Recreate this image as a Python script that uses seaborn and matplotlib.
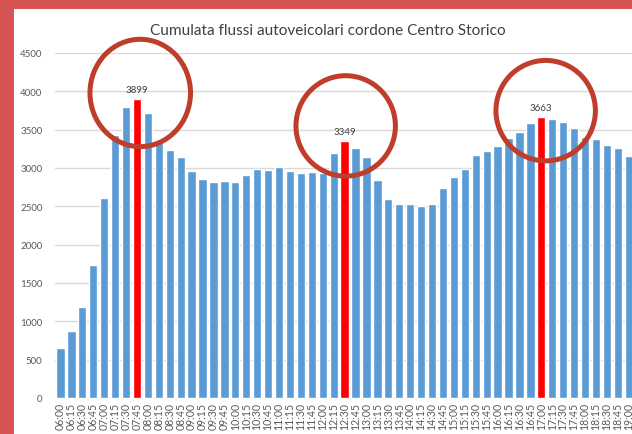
import matplotlib
matplotlib.use("Agg")
import matplotlib.pyplot as plt
from matplotlib.patches import Ellipse
import seaborn as sns
import pandas as pd

# ---- data ----
times = ["06:00", "06:15", "06:30", "06:45", "07:00", "07:15", "07:30", "07:45",
         "08:00", "08:15", "08:30", "08:45", "09:00", "09:15", "09:30", "09:45",
         "10:00", "10:15", "10:30", "10:45", "11:00", "11:15", "11:30", "11:45",
         "12:00", "12:15", "12:30", "12:45", "13:00", "13:15", "13:30", "13:45",
         "14:00", "14:15", "14:30", "14:45", "15:00", "15:15", "15:30", "15:45",
         "16:00", "16:15", "16:30", "16:45", "17:00", "17:15", "17:30", "17:45",
         "18:00", "18:15", "18:30", "18:45", "19:00"]
flows = [650, 880, 1190, 1730, 2610, 3430, 3800, 3899,
         3720, 3350, 3240, 3140, 2955, 2860, 2820, 2835,
         2815, 2910, 2990, 2970, 3010, 2965, 2935, 2950,
         2940, 3200, 3349, 3260, 3140, 2845, 2590, 2535,
         2530, 2510, 2535, 2735, 2885, 2990, 3175, 3220,
         3290, 3390, 3475, 3585, 3663, 3640, 3600, 3520,
         3410, 3380, 3300, 3260, 3160]
peaks = ["07:45", "12:30", "17:00"]
yticks = [0, 500, 1000, 1500, 2000, 2500, 3000, 3500, 4000, 4500]
title = "Cumulata flussi autoveicolari cordone Centro Storico"

df = pd.DataFrame({"time": times, "flow": flows})
df["kind"] = ["peak" if t in peaks else "normal" for t in times]

sns.set_theme(style="white")
plt.rcParams["font.family"] = ["Lato", "DejaVu Sans"]

W, H = 632, 435
fig = plt.figure(figsize=(W / 100, H / 100), dpi=100)
fig.patch.set_facecolor("#d65553")
bg = fig.add_axes([14 / W, 0, 1 - 14 / W, 1 - 10 / H], zorder=-10)
bg.set_facecolor("white")
bg.set_xticks([])
bg.set_yticks([])
for s in bg.spines.values():
    s.set_visible(False)

left, right, bottom, top = 55, 632, 399, 54
ax = fig.add_axes([left / W, 1 - bottom / H, (right - left) / W, (bottom - top) / H], zorder=1)
ax.patch.set_alpha(0)

sns.barplot(data=df, x="time", y="flow", hue="kind",
            palette={"normal": "#5b9bd5", "peak": "#ff0000"},
            dodge=False, width=0.76, legend=False, ax=ax, saturation=1)

ax.set_ylim(0, 4500)
ax.set_xlim(-0.5, 52.3)
ax.set_yticks(yticks)
ax.yaxis.grid(True, color="#d9d9d9", linewidth=1)
ax.set_axisbelow(True)
for s in ax.spines.values():
    s.set_visible(False)
ax.set_xlabel("")
ax.set_ylabel("")
ax.tick_params(axis="y", labelsize=7, labelcolor="#595959", pad=9, length=0)
ax.tick_params(axis="x", labelsize=7.6, labelcolor="#595959", pad=3, length=0, rotation=90)

# peak labels and circles
circ = "#bf3d2a"
offsets = {"07:45": (0.3, 80, 9.2, 1400), "12:30": (0.1, 200, 9.1, 1310), "17:00": (0.4, 85, 9.1, 1310)}
for p in peaks:
    i = times.index(p)
    v = flows[i]
    ax.annotate(f"{v}", (i, v), xytext=(0, 4), textcoords="offset points",
                ha="center", va="bottom", fontsize=7, color="#404040")
    dx, dy, w, h = offsets[p]
    ax.add_patch(Ellipse((i + dx, v + dy), w, h, fill=False, edgecolor=circ,
                         linewidth=3.6, clip_on=False, zorder=5))

fig.text(328 / W, 1 - 31 / H, title, ha="center", va="center", fontsize=11.1, color="#404040")

fig.savefig("out.png", dpi=100, facecolor=fig.get_facecolor())
